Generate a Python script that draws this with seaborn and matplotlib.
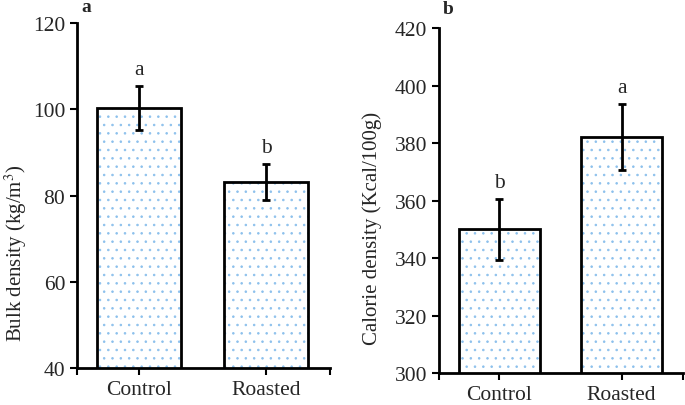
import numpy as np
import pandas as pd
import matplotlib
matplotlib.use("Agg")
import matplotlib.pyplot as plt
import seaborn as sns

# data
groups = ["Control", "Roasted"]
bulk_mean = [100.3, 83.2]
bulk_sd = [5.0, 4.2]
bulk_letters = ["a", "b"]
cal_mean = [350.0, 382.0]
cal_sd = [10.6, 11.5]
cal_letters = ["b", "a"]

sns.set_style("white")
plt.rcParams["font.family"] = ["Liberation Serif", "DejaVu Serif"]
plt.rcParams["mathtext.fontset"] = "stix"
plt.rcParams["hatch.linewidth"] = 0.6

FS = 15.5

fig = plt.figure(figsize=(6.85, 4.06), dpi=100)
ax1 = fig.add_axes([0.1124, 0.0911, 0.369, 0.8498])
ax2 = fig.add_axes([0.641, 0.0788, 0.356, 0.849])


def panel(ax, means, sds, letters, ylim, yticks, ylabel, label_xy):
    df = pd.DataFrame({"group": groups, "value": means})
    # dotted fill layer
    sns.barplot(data=df, x="group", y="value", ax=ax, color="white",
                width=0.66, linewidth=0)
    for p in ax.patches:
        p.set_hatch("..")
        p.set_edgecolor("#8cc0ec")
        p.set_linewidth(0)
    # black outlines
    sns.barplot(data=df, x="group", y="value", ax=ax, fill=False,
                width=0.66, linewidth=2, edgecolor="black")
    ax.errorbar(range(len(groups)), means, yerr=sds, fmt="none",
                ecolor="black", elinewidth=2, capsize=3, capthick=2, zorder=5)
    for i, (m, s, l) in enumerate(zip(means, sds, letters)):
        ax.annotate(l, (i, m + s), xytext=(0, 5), textcoords="offset points",
                    ha="center", va="bottom", fontsize=FS)
    ax.set_ylim(*ylim)
    ax.set_yticks(yticks)
    ax.set_xlim(-0.49, 1.5)
    ax.set_xticks([-0.49, 1.5], minor=True)
    ax.set_xlabel("")
    ax.set_ylabel(ylabel, fontsize=15)
    ax.yaxis.set_label_coords(*label_xy)
    ax.tick_params(axis="both", which="both", direction="out", length=5,
                   width=1.5, color="black", labelsize=FS, bottom=True, left=True)
    for side in ["top", "right"]:
        ax.spines[side].set_visible(False)
    for side in ["left", "bottom"]:
        ax.spines[side].set_color("black")
        ax.spines[side].set_linewidth(2)


panel(ax1, bulk_mean, bulk_sd, bulk_letters, (40, 120), [40, 60, 80, 100, 120],
      "Bulk density (kg/m$^3$)", (-0.19, 0.336))
panel(ax2, cal_mean, cal_sd, cal_letters, (300, 420),
      [300, 320, 340, 360, 380, 400, 420], "Calorie density (Kcal/100g)",
      (-0.235, 0.423))

fig.text(0.1255, 0.970, "a", fontsize=14, fontweight="bold", ha="center", va="baseline")
fig.text(0.654, 0.965, "b", fontsize=14, fontweight="bold", ha="center", va="baseline")

fig.savefig("out.png", dpi=100)
